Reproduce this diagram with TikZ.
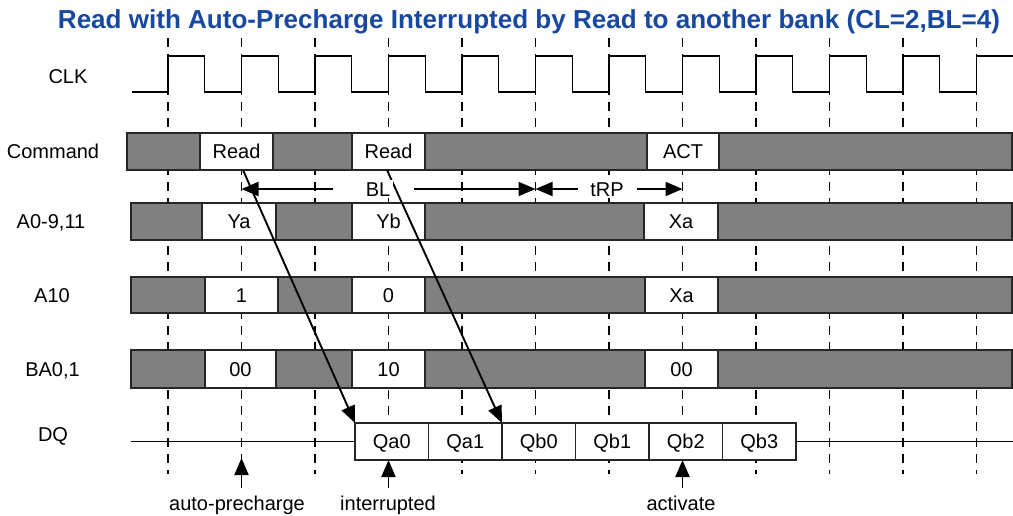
\documentclass[tikz,border=0pt]{standalone}
\usepackage{fontspec}
\setmainfont{Liberation Sans}
\usetikzlibrary{arrows.meta}
\definecolor{titleblue}{RGB}{24,72,160}
\definecolor{bargray}{RGB}{128,128,128}
\begin{document}
\begin{tikzpicture}[x=1pt,y=-1pt,
  txt/.style={font=\fontsize{20}{23}\selectfont, inner sep=0pt, text height=14.3pt, text depth=0pt},
  bar/.style={draw=black!85, fill=bargray, line width=1.2pt},
  wbox/.style={txt, draw=black!85, fill=white, line width=1.2pt, minimum height=37pt},
  dqbox/.style={txt, draw=black!85, fill=white, line width=1.2pt, minimum height=37pt, minimum width=73.5pt, outer sep=0pt},
  dashline/.style={line width=1.7pt, dash pattern=on 9pt off 7pt},
  clkline/.style={line width=1.1pt},
  arr/.style={line width=1.9pt, -{Triangle[length=17pt,width=14pt]}},
  ]
\useasboundingbox (0,0) rectangle (1013,515);

% title
\node[anchor=base, inner sep=0pt, text=titleblue] (title) at (529,28)
  {\resizebox{942pt}{!}{\bfseries Read with Auto-Precharge Interrupted by Read to another bank (CL=2,BL=4)}};

% dashed clock lines
\foreach \k in {0,...,11} {
  \draw[dashline] ({168+73.5*\k},38) -- ({168+73.5*\k},474);
}

% signal labels
\node[txt] (lclk) at (68,76) {CLK};
\node[txt] (lcmd) at (53,151.5) {Command};
\node[txt] (la0) at (51,221.5) {A0-9,11};
\node[txt] (la10) at (52,295) {A10};
\node[txt] (lba) at (52.5,369) {BA0,1};
\node[txt] (ldq) at (53,434) {DQ};

% CLK waveform
\draw[clkline] (132,92) foreach \k in {0,...,10} {
  -- ({168+73.5*\k},92) -- ({168+73.5*\k},56) -- ({204.75+73.5*\k},56) -- ({204.75+73.5*\k},92) }
  -- (976.5,92) -- (976.5,56) -- (1013,56);

% Command row
\draw[bar] (127,133) rectangle (1012,170);
\node[wbox, minimum width=73pt] (rd1) at (236.5,151.5) {Read};
\node[wbox, minimum width=73pt] (rd2) at (388.5,151.5) {Read};
\node[wbox, minimum width=72pt] (act) at (683,151.5) {ACT};

% A0-9,11 row
\draw[bar] (131,203) rectangle (1012,240);
\node[wbox, minimum width=74pt] (ya) at (239,221.5) {Ya};
\node[wbox, minimum width=73pt] (yb) at (388.5,221.5) {Yb};
\node[wbox, minimum width=74pt] (xa1) at (681,221.5) {Xa};

% A10 row
\draw[bar] (131,277) rectangle (1012,313);
\node[wbox, minimum width=73pt, minimum height=36pt] (one) at (241.5,295) {1};
\node[wbox, minimum width=73pt, minimum height=36pt] (zero) at (388.5,295) {0};
\node[wbox, minimum width=73pt, minimum height=36pt] (xa2) at (681.5,295) {Xa};

% BA0,1 row
\draw[bar] (131,350) rectangle (1012,388);
\node[wbox, minimum width=71pt, minimum height=38pt] (ba1) at (240.5,369) {00};
\node[wbox, minimum width=73pt, minimum height=38pt] (ba2) at (388.5,369) {10};
\node[wbox, minimum width=73pt, minimum height=38pt] (ba3) at (681.5,369) {00};

% DQ row
\node[dqbox] (q0) at (391.75,441.5) {Qa0};
\node[dqbox, anchor=west] (q1) at (q0.east) {Qa1};
\node[dqbox, anchor=west] (q2) at (q1.east) {Qb0};
\node[dqbox, anchor=west] (q3) at (q2.east) {Qb1};
\node[dqbox, anchor=west] (q4) at (q3.east) {Qb2};
\node[dqbox, anchor=west] (q5) at (q4.east) {Qb3};
\coordinate (dqL) at (131,441.5);
\coordinate (dqR) at (1013,441.5);
\draw[line width=1.1pt] (dqL) -- (q0.west);
\draw[line width=1.1pt] (q5.east) -- (dqR);

% diagonal latency arrows
\coordinate (d1) at (243,170);
\coordinate (d2) at (387,170);
\draw[arr] (d1) -- (q0.north west);
\draw[arr] (d2) -- (q1.north east);

% BL / tRP
\node[txt, fill=white, inner xsep=3pt, inner ysep=2pt] (bl) at (378,189) {BL};
\node[txt, fill=white, inner xsep=3pt, inner ysep=2pt] (trp) at (607,189) {tRP};
\coordinate (blA) at (333,189);
\coordinate (blB) at (414,189);
\coordinate (c1) at (241.5,189);
\coordinate (c5) at (535.5,189);
\coordinate (trA) at (578,189);
\coordinate (trB) at (637,189);
\coordinate (c7) at (682.5,189);
\draw[arr] (blA) -- (c1);
\draw[arr] (blB) -- (c5);
\draw[arr] (trA) -- (c5);
\draw[arr] (trB) -- (c7);

% bottom markers
\node[txt] (lap) at (237,503) {auto-precharge};
\node[txt] (lint) at (388,503) {interrupted};
\node[txt] (lact) at (681,503) {activate};
\coordinate (apb) at (241.5,488);
\coordinate (apt) at (241.5,458);
\coordinate (inb) at (388.5,488);
\coordinate (actb) at (682.5,488);
\draw[arr] (apb) -- (apt);
\draw[arr] (inb) -- (inb |- q0.south);
\draw[arr] (actb) -- (actb |- q4.south);
\end{tikzpicture}
\end{document}
